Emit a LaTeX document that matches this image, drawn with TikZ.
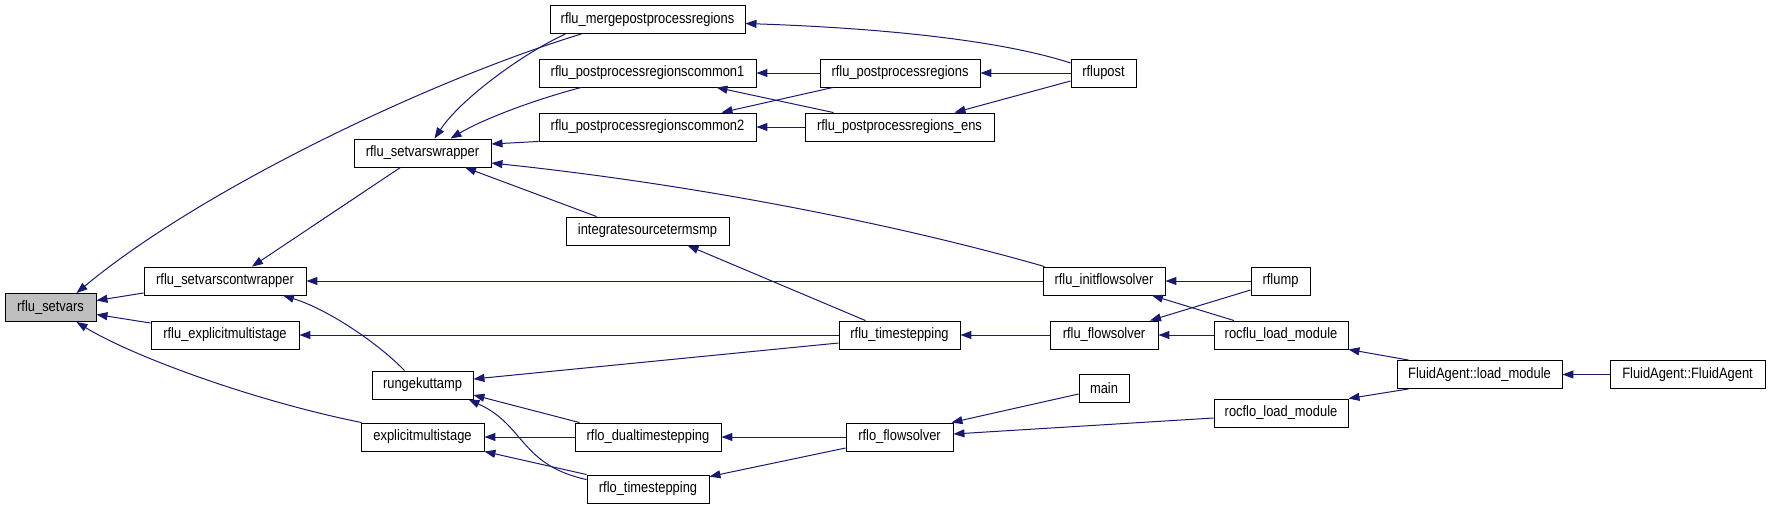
\documentclass[tikz,border=0pt]{standalone}
\usepackage{fontspec}
\setmainfont{Liberation Sans}[FakeStretch=0.86]
\usetikzlibrary{arrows.meta}
\definecolor{edgeblue}{HTML}{191970}
\definecolor{focusgray}{HTML}{BFBFBF}

\begin{document}
\begin{tikzpicture}[
    x=1pt, y=-1pt,
    font=\fontsize{15}{17}\selectfont,
    func/.style={rectangle, draw=black, fill=white, line width=0.9pt, inner sep=0pt, minimum height=28pt, text centered},
    focus/.style={func, fill=focusgray},
    arrow/.style={->, >={Triangle[length=11pt, width=8pt]}, draw=edgeblue, line width=1pt}
]
\useasboundingbox (0,0) rectangle (1771,509);

% --- Nodes ---
% Column 1 (the function itself)
\node (setvars) at (50.5,307.5) [focus, minimum width=91pt] {rflu\_setvars};

% Column 2
\node (contwrapper) at (225,281) [func, minimum width=162pt] {rflu\_setvarscontwrapper};
\node (rfluexplicit) at (225,335) [func, minimum width=148pt] {rflu\_explicitmultistage};

% Column 3
\node (wrapper) at (422.5,153) [func, minimum width=137pt] {rflu\_setvarswrapper};
\node (rungekutta) at (422.5,385) [func, minimum width=101pt] {rungekuttamp};
\node (explicit) at (422.5,437) [func, minimum width=123pt] {explicitmultistage};

% Column 4
\node (merge) at (647.5,19.5) [func, minimum width=195pt] {rflu\_mergepostprocessregions};
\node (common1) at (647.5,73) [func, minimum width=217pt] {rflu\_postprocessregionscommon1};
\node (common2) at (647.5,127) [func, minimum width=217pt] {rflu\_postprocessregionscommon2};
\node (integ) at (647.5,231) [func, minimum width=163pt] {integratesourcetermsmp};
\node (dualtime) at (648,437) [func, minimum width=146pt] {rflo\_dualtimestepping};
\node (rflotime) at (648,489) [func, minimum width=122pt] {rflo\_timestepping};

% Column 5
\node (postproc) at (900,73) [func, minimum width=160pt] {rflu\_postprocessregions};
\node (postens) at (899.5,127) [func, minimum width=189pt] {rflu\_postprocessregions\_ens};
\node (rflutime) at (899.5,335) [func, minimum width=121pt] {rflu\_timestepping};
\node (rfloflow) at (899.5,437) [func, minimum width=107pt] {rflo\_flowsolver};

% Column 6
\node (rflupost) at (1103.5,73) [func, minimum width=65pt] {rflupost};
\node (initflow) at (1104,281) [func, minimum width=122pt] {rflu\_initflowsolver};
\node (rfluflow) at (1104,335) [func, minimum width=108pt] {rflu\_flowsolver};
\node (main) at (1104,388) [func, minimum width=50pt] {main};

% Column 7
\node (rflump) at (1280.5,281) [func, minimum width=59pt] {rflump};
\node (rocflu) at (1281,335) [func, minimum width=134pt] {rocflu\_load\_module};
\node (rocflo) at (1281,413) [func, minimum width=134pt] {rocflo\_load\_module};

% Columns 8 and 9
\node (faload) at (1479.5,374.5) [func, minimum width=165pt] {FluidAgent::load\_module};
\node (faagent) at (1687.5,374.5) [func, minimum width=155pt] {FluidAgent::FluidAgent};

% --- Edges ---
% Callers of rflu_setvars
\draw [arrow] ([xshift=-66]merge.south) .. controls (430,80) and (200,190) .. ([xshift=26]setvars.north);
\draw [arrow] ([yshift=-12]contwrapper.west) -- ([yshift=7]setvars.east);
\draw [arrow] ([yshift=12]rfluexplicit.west) -- ([yshift=-7]setvars.east);
\draw [arrow] ([xshift=1]explicit.north west) .. controls (250,400) and (130,355) .. ([xshift=26]setvars.south);

% Wrappers
\draw [arrow] ([xshift=-22]wrapper.south) -- ([xshift=27]contwrapper.north);
\draw [arrow] (initflow.west) -- (contwrapper.east);
\draw [arrow] ([xshift=-18]rungekutta.north) .. controls (380,345) and (330,310) .. ([xshift=58]contwrapper.south);
\draw [arrow] (rflutime.west) -- (rfluexplicit.east);
\draw [arrow] ([xshift=-82]merge.south) .. controls (520,55) and (460,100) .. ([xshift=12]wrapper.north);
\draw [arrow] ([xshift=-66]common1.south) .. controls (540,98) and (485,118) .. ([xshift=28]wrapper.north);
\draw [arrow] (common2.south west) -- ([yshift=9]wrapper.east);
\draw [arrow] ([xshift=2]initflow.north west) .. controls (900,225) and (700,185) .. ([yshift=-10]wrapper.east);
\draw [arrow] ([xshift=31]integ.north west) -- ([xshift=42.5]wrapper.south);

% Post-processing
\draw [arrow] ([yshift=10]rflupost.west) .. controls (1000,40) and (880,28) .. ([yshift=-4]merge.east);
\draw [arrow] (rflupost.west) -- (postproc.east);
\draw [arrow] ([yshift=-8]rflupost.west) -- ([xshift=55]postens.north);
\draw [arrow] (postproc.west) -- (common1.east);
\draw [arrow] ([xshift=-66]postens.north) -- ([xshift=69]common1.south);
\draw [arrow] ([xshift=-67]postproc.south) -- ([xshift=74]common2.north);
\draw [arrow] (postens.west) -- (common2.east);

% Time stepping
\draw [arrow] ([xshift=-34]rflutime.north) -- ([xshift=40]integ.south);
\draw [arrow] ([yshift=-8]rflutime.west) -- ([yshift=6]rungekutta.east);
\draw [arrow] ([xshift=5]dualtime.north west) -- ([yshift=-10]rungekutta.east);
\draw [arrow] ([yshift=-5]rflotime.north west) .. controls (520,465) and (525,425) .. ([xshift=-5]rungekutta.south east);
\draw [arrow] (dualtime.west) -- (explicit.east);
\draw [arrow] (rflotime.north west) -- (explicit.south east);
\draw [arrow] (rfloflow.west) -- (dualtime.east);
\draw [arrow] ([yshift=-11]rfloflow.west) -- ([yshift=-2]rflotime.north east);

% Solvers and modules
\draw [arrow] ([yshift=-6]main.west) -- ([xshift=-2]rfloflow.north east);
\draw [arrow] ([yshift=-5]rocflo.west) -- ([yshift=3]rfloflow.east);
\draw [arrow] (rfluflow.west) -- (rflutime.east);
\draw [arrow] (rflump.west) -- (initflow.east);
\draw [arrow] ([xshift=-47]rocflu.north) -- ([xshift=48]initflow.south);
\draw [arrow] ([yshift=-9]rflump.west) -- ([xshift=46]rfluflow.north);
\draw [arrow] (rocflu.west) -- (rfluflow.east);
\draw [arrow] ([xshift=12]faload.north west) -- (rocflu.south east);
\draw [arrow] ([xshift=12]faload.south west) -- (rocflo.north east);
\draw [arrow] (faagent.west) -- (faload.east);

\end{tikzpicture}
\end{document}
